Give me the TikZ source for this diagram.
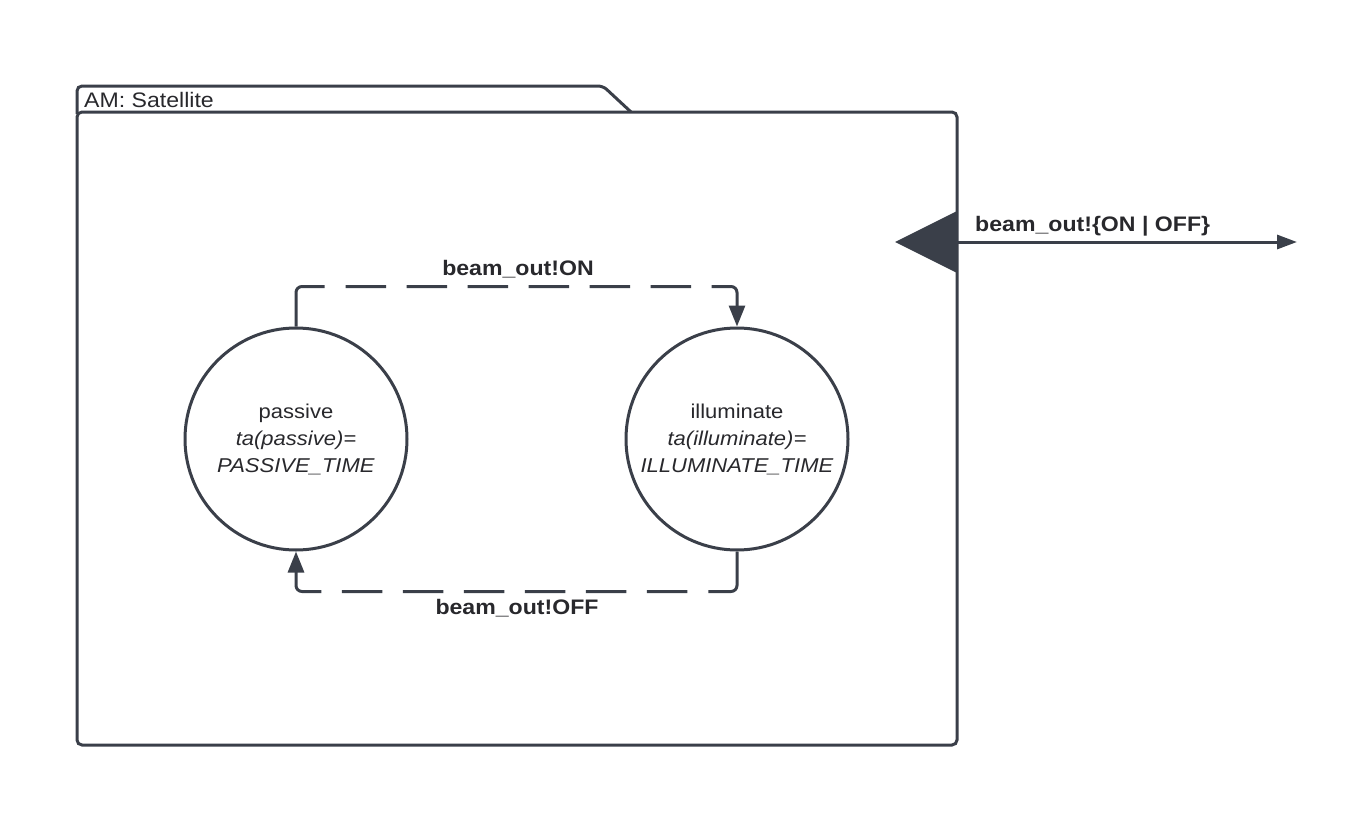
\documentclass[tikz,border=0pt]{standalone}
\usepackage{fontspec}
\setmainfont{Liberation Sans}[FakeStretch=1.1]
\usetikzlibrary{arrows.meta}
\definecolor{ink}{RGB}{58,63,73}
\definecolor{txt}{RGB}{40,40,44}
\tikzset{
  frame/.style={draw=ink, line width=3pt, rounded corners=5pt},
  statenode/.style={circle, draw=ink, line width=3pt, minimum size=222pt, inner sep=0pt,
    align=center, text=txt, font=\fontsize{20}{27}\selectfont},
  trans/.style={draw=ink, line width=3pt, rounded corners=6pt,
    dash pattern=on 66pt off 21pt on 40.5pt off 20.5pt on 40.5pt off 20.5pt on 40.5pt off 20.5pt
      on 40.5pt off 20.5pt on 40.5pt off 20.5pt on 40.5pt off 20.5pt on 200pt off 0pt,
    -{Triangle[length=21pt,width=16pt]}},
  lbl/.style={text=txt, font=\bfseries\fontsize{21}{24}\selectfont, inner sep=0pt},
}
\begin{document}
\begin{tikzpicture}[x=1pt,y=-1pt]
\useasboundingbox (0,0) rectangle (1355,819);
% package frame
\draw[frame] (77,112) rectangle (957,745);
\draw[frame] (77,114) -- (77,86) -- (603,86) -- (631,112);
\node[anchor=west, text=txt, font=\fontsize{21}{24}\selectfont, inner sep=0pt] (title) at (84,100) {AM: Satellite};
% states
\node[statenode] (p) at (296,439) {passive\\\textit{ta(passive)=}\\\textit{PASSIVE\_TIME}};
\node[statenode] (i) at (737,439) {illuminate\\\textit{ta(illuminate)=}\\\textit{ILLUMINATE\_TIME}};
% transitions
\draw[trans] (p.north) -- ++(0,-40) -| (i.north);
\draw[trans] (i.south) -- ++(0,40) -| (p.south);
\node[lbl] (lon) at (518,269) {beam\_out!ON};
\node[lbl] (loff) at (517,608) {beam\_out!OFF};
% port
\fill[ink] (957,211) -- (895,242) -- (957,273) -- cycle;
\coordinate (port) at (957,242);
\coordinate (out) at (1297,242);
\draw[draw=ink, line width=3pt, -{Triangle[length=20pt,width=14pt]}] (port) -- (out);
\node[lbl, anchor=west] (lport) at (975,226) {beam\_out!\{ON | OFF\}};
\end{tikzpicture}
\end{document}
